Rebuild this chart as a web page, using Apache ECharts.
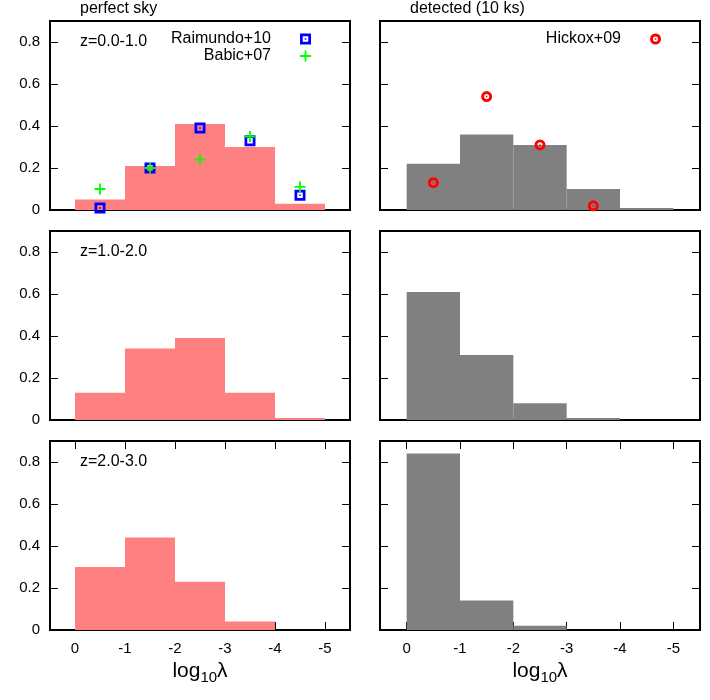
<!DOCTYPE html>
<html>
<head>
<meta charset="utf-8">
<script src="https://cdn.jsdelivr.net/npm/echarts@6/dist/echarts.min.js"></script>
<style>
  html, body { margin: 0; padding: 0; background: #fff; }
  #chart { width: 710px; height: 700px; }
</style>
</head>
<body>
<div id="chart"></div>
<script>
// histogram bins in log10(lambda)
var binStart = [0, -1, -2, -3, -4]
var binEnd = [-1, -2, -3, -4, -5]
var binMid = [-0.5, -1.5, -2.5, -3.5, -4.5]

// perfect sky, one list per redshift bin
var skyZ1 = [0.05, 0.21, 0.41, 0.30, 0.03]
var skyZ2 = [0.13, 0.34, 0.39, 0.13, 0.01]
var skyZ3 = [0.30, 0.44, 0.23, 0.04, 0]
// detected (10 ks)
var detZ1 = [0.22, 0.36, 0.31, 0.10, 0.01]
var detZ2 = [0.61, 0.31, 0.08, 0.01, 0]
var detZ3 = [0.84, 0.14, 0.02, 0, 0]

// literature points (z=0-1 only)
var raimundo = [0.01, 0.20, 0.39, 0.33, 0.07]
var babic = [0.10, 0.20, 0.24, 0.35, 0.11]
var hickox = [0.13, 0.54, 0.31, 0.02]

var xTicks = [0, -1, -2, -3, -4, -5]
var yTicks = [0, 0.2, 0.4, 0.6, 0.8]
var zLabels = ['z=0.0-1.0', 'z=1.0-2.0', 'z=2.0-3.0']
var colTitles = ['perfect sky', 'detected (10 ks)']

var FONT = '"Liberation Sans", Arial, Helvetica, sans-serif'
var colLeft = [50, 380]
var colWidth = [300, 320]
var rowTop = [21, 231, 441]
var rowHeight = 189

// gnuplot-like point types
var squareIcon = 'path://M0,0L12,0L12,12L0,12Z M3,3L3,9L9,9L9,3Z M5.2,5.2L6.8,5.2L6.8,6.8L5.2,6.8Z'
var plusIcon = 'path://M5,0L7,0L7,5L12,5L12,7L7,7L7,12L5,12L5,7L0,7L0,5L5,5Z'
var circleIcon = 'path://M6,0A6,6 0 1,1 6,12A6,6 0 1,1 6,0Z M6,3.2A2.8,2.8 0 1,0 6,8.8A2.8,2.8 0 1,0 6,3.2Z M5.2,5.2L6.8,5.2L6.8,6.8L5.2,6.8Z'

function histData(vals) {
  return vals.map(function (v, i) {
    return [binStart[i], binEnd[i], v]
  })
}

function pointData(vals) {
  return vals.map(function (v, i) {
    return [binMid[i], v]
  })
}

function histItem(fill) {
  return function (params, api) {
    var v = api.value(2)
    if (!v) return
    var p0 = api.coord([api.value(0), 0])
    var p1 = api.coord([api.value(1), v])
    return {
      type: 'rect',
      shape: {
        x: Math.min(p0[0], p1[0]),
        y: p1[1],
        width: Math.abs(p1[0] - p0[0]),
        height: p0[1] - p1[1],
      },
      style: { fill: fill },
    }
  }
}

var grids = []
var xAxes = []
var yAxes = []
var titles = []
var series = []

var panels = [
  [skyZ1, detZ1],
  [skyZ2, detZ2],
  [skyZ3, detZ3],
]

for (var r = 0; r < 3; r++) {
  for (var c = 0; c < 2; c++) {
    var g = r * 2 + c
    var bottomRow = r === 2
    grids.push({
      left: colLeft[c],
      top: rowTop[r],
      width: colWidth[c],
      height: rowHeight,
      show: true,
      borderColor: '#000',
      borderWidth: 2,
      backgroundColor: 'transparent',
    })
    xAxes.push({
      type: 'value',
      gridIndex: g,
      min: -5.5,
      max: 0.5,
      inverse: true,
      position: 'bottom',
      axisLine: { show: false, onZero: false },
      axisTick: { show: bottomRow, inside: true, length: 8, customValues: xTicks, lineStyle: { color: '#000', width: 1 } },
      axisLabel: { show: bottomRow, customValues: xTicks, margin: 11, fontSize: 15, color: '#000', fontFamily: FONT },
      splitLine: { show: false },
      name: bottomRow ? '{a|log}{s|10}{a|λ}' : '',
      nameLocation: 'middle',
      nameGap: 28,
      nameTextStyle: {
        rich: {
          a: { fontSize: 21, fontFamily: FONT, color: '#000' },
          s: { fontSize: 15, fontFamily: FONT, color: '#000', padding: [12, 0, 0, 0] },
        },
      },
    })
    yAxes.push({
      type: 'value',
      gridIndex: g,
      min: 0,
      max: 0.9,
      position: 'left',
      axisLine: { show: false, onZero: false },
      axisTick: { show: true, inside: true, length: 8, customValues: yTicks, lineStyle: { color: '#000', width: 1 } },
      axisLabel: { show: c === 0, customValues: yTicks, margin: 10, fontSize: 15, color: '#000', fontFamily: FONT },
      splitLine: { show: false },
    })
    series.push({
      type: 'custom',
      name: 'hist' + g,
      xAxisIndex: g,
      yAxisIndex: g,
      renderItem: c === 0 ? histItem('#ff8080') : histItem('#808080'),
      encode: { x: [0, 1], y: 2 },
      data: histData(panels[r][c]),
      z: 1,
    })
  }
  titles.push({
    text: zLabels[r],
    left: colLeft[0] + 30,
    top: rowTop[r] + 13,
    padding: 0,
    textStyle: { fontSize: 16, fontWeight: 'normal', color: '#000', fontFamily: FONT },
  })
}

// mirrored ticks: right y axes, top x axes on the bottom row
for (var g2 = 0; g2 < 6; g2++) {
  yAxes.push({
    type: 'value',
    gridIndex: g2,
    min: 0,
    max: 0.9,
    position: 'right',
    axisLine: { show: false, onZero: false },
    axisTick: { show: true, inside: true, length: 8, customValues: yTicks, lineStyle: { color: '#000', width: 1 } },
    axisLabel: { show: false },
    splitLine: { show: false },
  })
}
;[4, 5].forEach(function (g3) {
  xAxes.push({
    type: 'value',
    gridIndex: g3,
    min: -5.5,
    max: 0.5,
    inverse: true,
    position: 'top',
    axisLine: { show: false, onZero: false },
    axisTick: { show: true, inside: true, length: 8, customValues: xTicks, lineStyle: { color: '#000', width: 1 } },
    axisLabel: { show: false },
    splitLine: { show: false },
  })
})

colTitles.forEach(function (t, c) {
  titles.push({
    text: t,
    left: colLeft[c] + 30,
    top: 1,
    padding: 0,
    textStyle: { fontSize: 16, fontWeight: 'normal', color: '#000', fontFamily: FONT },
  })
})

series.push(
  {
    type: 'scatter',
    name: 'Raimundo+10',
    xAxisIndex: 0,
    yAxisIndex: 0,
    symbol: squareIcon,
    symbolSize: 11,
    itemStyle: { color: '#0000ff', opacity: 1 },
    data: pointData(raimundo),
    z: 3,
  },
  {
    type: 'scatter',
    name: 'Babic+07',
    xAxisIndex: 0,
    yAxisIndex: 0,
    symbol: plusIcon,
    symbolSize: 11,
    itemStyle: { color: '#00ff00', opacity: 1 },
    data: pointData(babic),
    z: 4,
  },
  {
    type: 'scatter',
    name: 'Hickox+09',
    xAxisIndex: 1,
    yAxisIndex: 1,
    symbol: circleIcon,
    symbolSize: 11,
    itemStyle: { color: '#ff0000', opacity: 1 },
    data: pointData(hickox),
    z: 3,
  }
)

function legendFor(name, icon, right, top) {
  return {
    data: [{ name: name, icon: icon }],
    orient: 'vertical',
    align: 'right',
    right: right,
    top: top,
    padding: 0,
    itemWidth: 11,
    itemHeight: 11,
    selectedMode: false,
    textStyle: { fontSize: 16, color: '#000', fontFamily: FONT, padding: [0, 24, 0, 0] },
  }
}

var myChart = echarts.init(document.getElementById('chart'))
myChart.setOption({
  animation: false,
  backgroundColor: '#fff',
  title: titles,
  legend: [
    legendFor('Raimundo+10', squareIcon, 399, 31),
    legendFor('Babic+07', plusIcon, 399, 48),
    legendFor('Hickox+09', circleIcon, 49, 31),
  ],
  grid: grids,
  xAxis: xAxes,
  yAxis: yAxes,
  series: series,
})
</script>
</body>
</html>
